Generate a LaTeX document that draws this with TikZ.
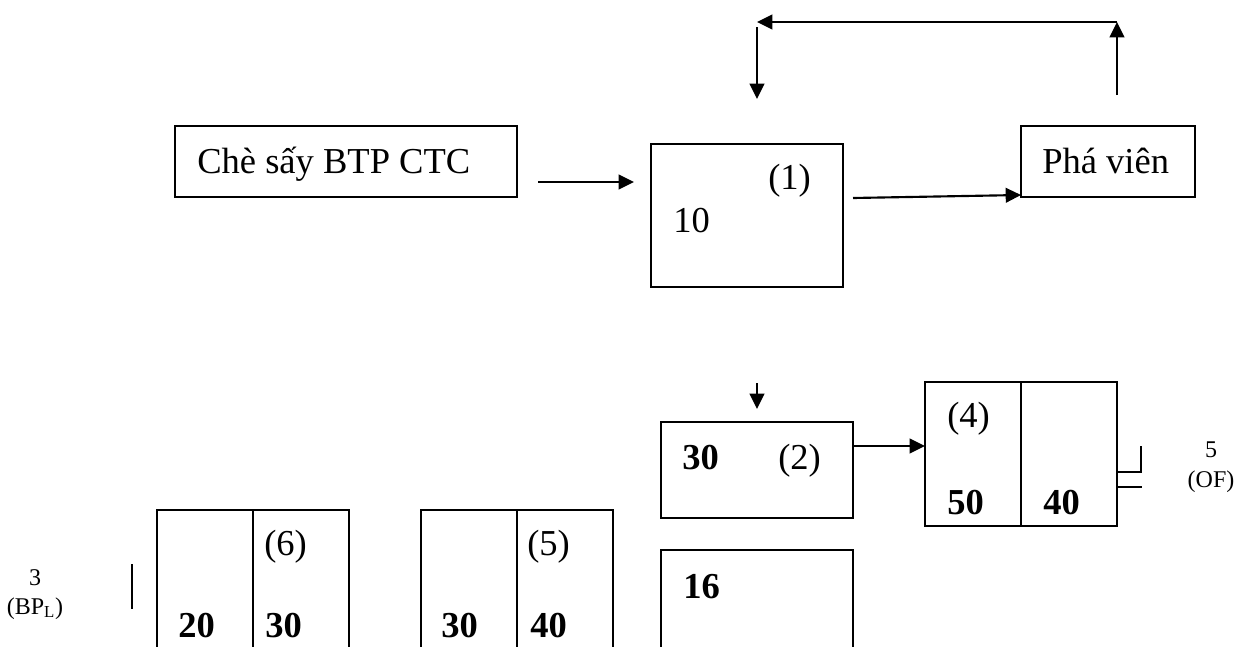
\documentclass[tikz,border=0pt]{standalone}
\usepackage{fontspec}
\setmainfont{Liberation Serif}
\usetikzlibrary{arrows.meta}
\begin{document}
\begin{tikzpicture}[x=0.75pt,y=-0.75pt,
  boxnode/.style={draw,line width=1.4pt,inner sep=0pt},
  lbl/.style={anchor=base west,inner sep=0pt,font=\fontsize{27.4}{32}\selectfont},
  num/.style={anchor=base west,inner sep=0pt,text depth=0pt,font=\fontsize{27.4}{32}\selectfont\bfseries},
  small/.style={anchor=base,inner sep=0pt,font=\fontsize{18}{22}\selectfont},
  arr/.style={line width=1.6pt,-{Triangle[length=11.5pt,width=11pt]}},
  thin/.style={line width=1.4pt}]
\useasboundingbox (0,0) rectangle (1245,646);
\clip (0,0) rectangle (1245,646);

% boxes
\node[boxnode,minimum width=256.5pt,minimum height=53.25pt] (che) at (346,161.5) {};
\node[boxnode,minimum width=144pt,minimum height=107.25pt] (b1) at (747,215.5) {};
\node[boxnode,minimum width=130.5pt,minimum height=53.25pt] (pv) at (1108,161.5) {};
\node[boxnode,minimum width=144pt,minimum height=72pt] (b2) at (757,470) {};
\node[boxnode,minimum width=144pt,minimum height=108pt] (b4) at (1021,454) {};
\node[boxnode,minimum width=144pt,minimum height=112.5pt] (b16) at (757,625) {};
\node[boxnode,minimum width=144pt,minimum height=142.5pt] (b6) at (253,605) {};
\node[boxnode,minimum width=144pt,minimum height=142.5pt] (b5) at (517,605) {};
\draw[thin] (b4.north) -- (b4.south);
\draw[thin] (b6.north) -- (b6.south);
\draw[thin] (b5.north) -- (b5.south);

% texts
\node[lbl] (tche) at (197,173) {Chè sấy BTP CTC};
\node[lbl] (tpv) at (1042,173) {Phá viên};
\node[lbl] (t1) at (768,189) {(1)};
\node[lbl] (t10) at (673,232) {10};
\node[num] (t30a) at (682,469) {30};
\node[lbl] (t2) at (778,469) {(2)};
\node[num] (t16) at (683,598) {16};
\node[lbl] (t4) at (947,427) {(4)};
\node[num] (t50) at (947,514) {50};
\node[num] (t40a) at (1043,514) {40};
\node[lbl] (t6) at (264,555) {(6)};
\node[num] (t20) at (178,637) {20};
\node[num] (t30b) at (265,637) {30};
\node[lbl] (t5) at (527,555) {(5)};
\node[num] (t30c) at (441,637) {30};
\node[num] (t40b) at (530,637) {40};
\node[small] (tn5) at (1211,457) {5};
\node[small] (tof) at (1211,487) {(OF)};
\node[small] (tn3) at (35,585) {3};
\node[small] (tbp) at (35,614) {(BP\textsubscript{L})};

% connector end points
\coordinate (a1s) at (538,182);
\coordinate (a1e) at (634,182);
\coordinate (a2s) at (853,198);
\coordinate (a2e) at (1021,195);
\coordinate (fr0) at (1117,95);
\coordinate (fr1) at (1117,22);
\coordinate (fl) at (757,22);
\coordinate (fd0) at (757,27);
\coordinate (fd1) at (757,99);
\coordinate (d0) at (757,383);
\coordinate (d1) at (757,409);
\coordinate (a3s) at (853,446);
\coordinate (a3e) at (925,446);

\draw[arr] (a1s) -- (a1e);
\draw[arr] (a2s) -- (a2e);
\draw[arr] (fr0) -- (fr1);
\draw[arr] (fr1) -- (fl);
\draw[arr] (fd0) -- (fd1);
\draw[arr] (d0) -- (d1);
\draw[arr] (a3s) -- (a3e);

% small marks
\coordinate (k1) at (1141,446);
\coordinate (k2) at (1141,472);
\coordinate (k3) at (1117,472);
\coordinate (k4) at (1117,487);
\coordinate (k5) at (1142,487);
\draw[thin] (k1) -- (k2) -- (k3);
\draw[thin] (k4) -- (k5);
\coordinate (m1) at (132,564);
\coordinate (m2) at (132,609);
\draw[thin] (m1) -- (m2);
\end{tikzpicture}
\end{document}
